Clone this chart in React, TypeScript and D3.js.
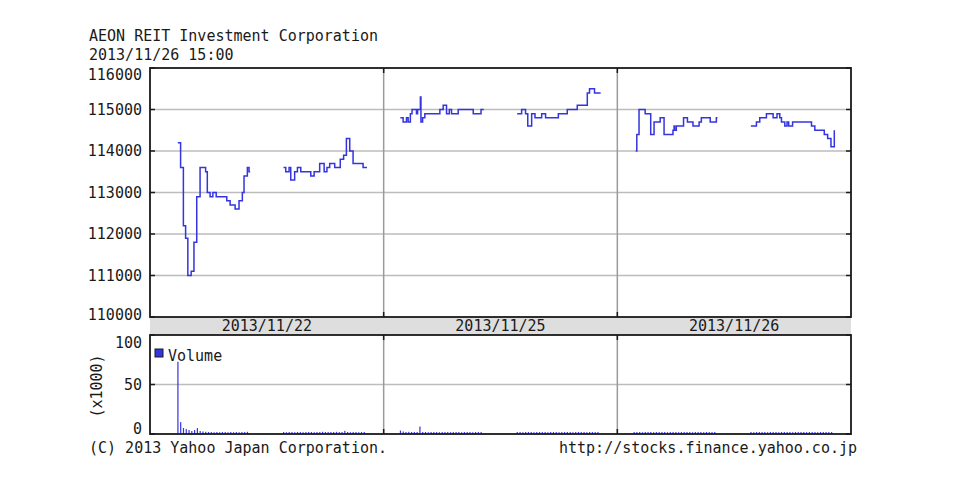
import * as d3 from "d3";

const title = "AEON REIT Investment Corporation";
const stamp = "2013/11/26 15:00";
const days = ["2013/11/22", "2013/11/25", "2013/11/26"];
const priceTicks = [110000, 111000, 112000, 113000, 114000, 115000, 116000];
const volumeTicks = [0, 50, 100];

// price steps per session: [time, yen]
const p22am: [string, number][] = [
  ["9:20", 114200], ["9:25", 113600], ["9:30", 112200], ["9:34", 111900],
  ["9:38", 111000], ["9:44", 111100], ["9:49", 111800], ["9:54", 112900],
  ["10:00", 113600], ["10:10", 113500], ["10:13", 113000], ["10:18", 112900],
  ["10:23", 113000], ["10:29", 112900], ["10:48", 112800], ["10:54", 112700],
  ["11:03", 112600], ["11:10", 112800], ["11:16", 113000], ["11:19", 113400],
  ["11:25", 113600], ["11:28", 113500], ["11:30", 113500],
];
const p22pm: [string, number][] = [
  ["12:30", 113600], ["12:34", 113500], ["12:40", 113600], ["12:43", 113300],
  ["12:50", 113500], ["12:55", 113600], ["13:01", 113500], ["13:19", 113400],
  ["13:25", 113500], ["13:35", 113700], ["13:43", 113500], ["13:48", 113600],
  ["13:53", 113700], ["14:02", 113600], ["14:12", 113800], ["14:18", 113900],
  ["14:23", 114300], ["14:29", 114000], ["14:35", 113700], ["14:53", 113600],
  ["15:00", 113600],
];
const p25am: [string, number][] = [
  ["9:00", 114800], ["9:05", 114700], ["9:11", 114800], ["9:14", 114700],
  ["9:18", 114900], ["9:21", 115000], ["9:29", 114900], ["9:31", 115000],
  ["9:36", 115300], ["9:37", 114700], ["9:40", 114800], ["9:44", 114900],
  ["10:11", 115000], ["10:17", 115100], ["10:23", 114900], ["10:28", 115000],
  ["10:32", 114900], ["10:44", 115000], ["11:11", 114900], ["11:25", 115000],
  ["11:30", 115000],
];
const p25pm: [string, number][] = [
  ["12:30", 114900], ["12:38", 115000], ["12:45", 114900], ["12:49", 114600],
  ["12:56", 114900], ["13:02", 114800], ["13:14", 114900], ["13:21", 114800],
  ["13:44", 114900], ["14:00", 115000], ["14:18", 115100], ["14:36", 115400],
  ["14:40", 115500], ["14:49", 115400], ["15:00", 115400],
];
const p26am: [string, number][] = [
  ["9:03", 114000], ["9:05", 114400], ["9:09", 115000], ["9:20", 114900],
  ["9:30", 114400], ["9:36", 114700], ["9:47", 114800], ["9:54", 114400],
  ["10:10", 114500], ["10:12", 114600], ["10:13", 114500], ["10:16", 114600],
  ["10:29", 114800], ["10:36", 114700], ["10:46", 114600], ["10:57", 114700],
  ["11:01", 114800], ["11:17", 114700], ["11:28", 114800], ["11:30", 114800],
];
const p26pm: [string, number][] = [
  ["12:30", 114600], ["12:40", 114700], ["12:46", 114800], ["12:58", 114900],
  ["13:10", 114800], ["13:17", 114900], ["13:22", 114800], ["13:25", 114700],
  ["13:31", 114600], ["13:35", 114700], ["13:38", 114600], ["13:45", 114700],
  ["14:19", 114600], ["14:25", 114500], ["14:42", 114400], ["14:48", 114300],
  ["14:54", 114100], ["15:00", 114500],
];

// volume, thousands of shares, 5-minute buckets from the session's first bar
const v22am = [73, 12, 6, 5, 4, 3, 4, 6, 3, 2.5, 2.2, 2, 2, 1.8, 2, 1.8, 2, 2, 1.8, 2, 1.8, 2, 1.8, 2, 2, 2.2];
const v22pm = [2, 1.8, 2, 2, 1.8, 2, 2, 1.8, 2, 2, 2, 1.8, 2, 2, 2.2, 2, 2, 2, 2, 2.2, 2, 2, 3.2, 2, 1.8, 2, 2, 1.8, 2, 2];
const v25am = [3.5, 2.5, 2, 2.2, 2, 2, 2, 7.5, 2, 2, 1.8, 2, 2, 2, 1.8, 2, 2, 2, 1.8, 2, 2, 2, 1.8, 2, 2, 2, 1.8, 2, 2, 2];
const v25pm = [2, 2, 1.8, 2, 2, 2, 1.8, 2, 2, 2, 2, 1.8, 2, 2, 2, 1.8, 2, 2, 2, 2, 1.8, 2, 2, 2, 2, 1.8, 2, 2, 2, 2];
const v26am = [2, 2, 2, 1.8, 2, 2, 2, 1.8, 2, 2, 2, 2, 1.8, 2, 2, 2, 1.8, 2, 2, 2, 2, 1.8, 2, 2, 2, 1.8, 2, 2, 2, 2];
const v26pm = [2, 1.8, 2, 2, 2, 2, 1.8, 2, 2, 2, 1.8, 2, 2, 2, 2, 1.8, 2, 2, 2, 2, 1.8, 2, 2, 2, 1.8, 2, 2, 2, 2, 2];

const sessions = [
  { day: 0, price: p22am, volStart: "9:20", volume: v22am },
  { day: 0, price: p22pm, volStart: "12:30", volume: v22pm },
  { day: 1, price: p25am, volStart: "9:00", volume: v25am },
  { day: 1, price: p25pm, volStart: "12:30", volume: v25pm },
  { day: 2, price: p26am, volStart: "9:00", volume: v26am },
  { day: 2, price: p26pm, volStart: "12:30", volume: v26pm },
];

const width = 972;
const height = 490;
const left = 150;
const right = 851;
const priceTop = 68;
const priceBottom = 317;
const volTop = 335;
const volBottom = 434;

const font = "'DejaVu Sans Mono', monospace";
const ink = "#1a1a1a";
const blue = "#3434e0";

const toMin = (t: string) => {
  const [h, m] = t.split(":").map(Number);
  return h * 60 + m;
};

export default function App() {
  const dayScale = d3.scaleBand().domain(days).range([left, right]);
  const time = d3
    .scaleLinear()
    .domain([toMin("8:30"), toMin("15:30")])
    .range([0, dayScale.bandwidth()]);
  const x = (day: number, t: number) => (dayScale(days[day]) ?? 0) + time(t);
  const y = d3.scaleLinear().domain([110000, 116000]).range([priceBottom, priceTop]);
  const yv = d3.scaleLinear().domain([0, 100]).range([volBottom, volTop]);

  const dividers = days.slice(1).map((d) => dayScale(d) ?? 0);

  return (
    <svg
      width={width}
      height={height}
      style={{ position: "absolute", left: 0, top: 0, background: "#fff" }}
      fontFamily={font}
      fontSize={15}
    >
      <rect width={width} height={height} fill="#fff" />
      <text x={89} y={41} fill={ink}>{title}</text>
      <text x={89} y={60} fill={ink}>{stamp}</text>

      {/* gridlines */}
      {priceTicks.slice(1, -1).map((t) => (
        <line key={t} x1={left} x2={right} y1={y(t)} y2={y(t)} stroke="#bcbcbc" strokeWidth={1.5} />
      ))}
      {volumeTicks.slice(1, -1).map((t) => (
        <line key={t} x1={left} x2={right} y1={yv(t)} y2={yv(t)} stroke="#bcbcbc" strokeWidth={1.5} />
      ))}
      {dividers.map((dx) => (
        <g key={dx}>
          <line x1={dx} x2={dx} y1={priceTop} y2={priceBottom} stroke="#9a9a9a" strokeWidth={1.5} />
          <line x1={dx} x2={dx} y1={volTop} y2={volBottom} stroke="#9a9a9a" strokeWidth={1.5} />
          {[priceTop, volTop].map((ty) => (
            <line key={ty} x1={dx} x2={dx} y1={ty} y2={ty + 5} stroke={ink} strokeWidth={1.5} />
          ))}
          {[priceBottom, volBottom].map((ty) => (
            <line key={ty} x1={dx} x2={dx} y1={ty - 5} y2={ty} stroke={ink} strokeWidth={1.5} />
          ))}
        </g>
      ))}

      {/* price steps */}
      {sessions.map((s, i) => {
        const path = d3
          .line<[string, number]>()
          .x((d) => x(s.day, toMin(d[0])))
          .y((d) => y(d[1]))
          .curve(d3.curveStepAfter)(s.price);
        return <path key={i} d={path ?? ""} fill="none" stroke={blue} strokeWidth={1.5} />;
      })}

      {/* volume bars */}
      {sessions.map((s, i) =>
        s.volume.map((v, j) => {
          const bx = x(s.day, toMin(s.volStart) + j * 5);
          return (
            <rect
              key={`${i}-${j}`}
              x={bx - 0.5}
              y={yv(v)}
              width={1.2}
              height={yv(0) - yv(v)}
              fill={blue}
            />
          );
        })
      )}

      {/* date band */}
      <rect x={left} y={priceBottom} width={right - left} height={volTop - priceBottom} fill="#dedede" />
      {days.map((d) => (
        <text
          key={d}
          x={(dayScale(d) ?? 0) + dayScale.bandwidth() / 2}
          y={331}
          textAnchor="middle"
          fill={ink}
        >
          {d}
        </text>
      ))}

      {/* frames */}
      <rect x={left} y={priceTop} width={right - left} height={priceBottom - priceTop} fill="none" stroke={ink} strokeWidth={1.8} />
      <rect x={left} y={volTop} width={right - left} height={volBottom - volTop} fill="none" stroke={ink} strokeWidth={1.8} />

      {/* y ticks and labels */}
      {priceTicks.map((t) => (
        <g key={t}>
          <line x1={left} x2={left + 5} y1={y(t)} y2={y(t)} stroke={ink} strokeWidth={1.5} />
          <line x1={right - 5} x2={right} y1={y(t)} y2={y(t)} stroke={ink} strokeWidth={1.5} />
          <text
            x={142}
            y={Math.min(Math.max(y(t), priceTop + 7), priceBottom - 2)}
            dy="0.36em"
            textAnchor="end"
            fill={ink}
          >
            {t}
          </text>
        </g>
      ))}
      {volumeTicks.map((t) => (
        <g key={t}>
          <line x1={left} x2={left + 5} y1={yv(t)} y2={yv(t)} stroke={ink} strokeWidth={1.5} />
          <line x1={right - 5} x2={right} y1={yv(t)} y2={yv(t)} stroke={ink} strokeWidth={1.5} />
          <text
            x={142}
            y={Math.min(Math.max(yv(t), volTop + 8), volBottom - 5)}
            dy="0.36em"
            textAnchor="end"
            fill={ink}
          >
            {t}
          </text>
        </g>
      ))}
      <text transform="translate(102, 386) rotate(-90)" textAnchor="middle" fill={ink}>
        (x1000)
      </text>

      {/* legend */}
      <rect x={155} y={349} width={8} height={8} fill={blue} stroke={ink} strokeWidth={1} />
      <text x={168} y={361} fill={ink}>Volume</text>

      {/* footer */}
      <text x={89} y={453} fill={ink}>(C) 2013 Yahoo Japan Corporation.</text>
      <text x={857} y={453} textAnchor="end" fill={ink}>http://stocks.finance.yahoo.co.jp</text>
    </svg>
  );
}
